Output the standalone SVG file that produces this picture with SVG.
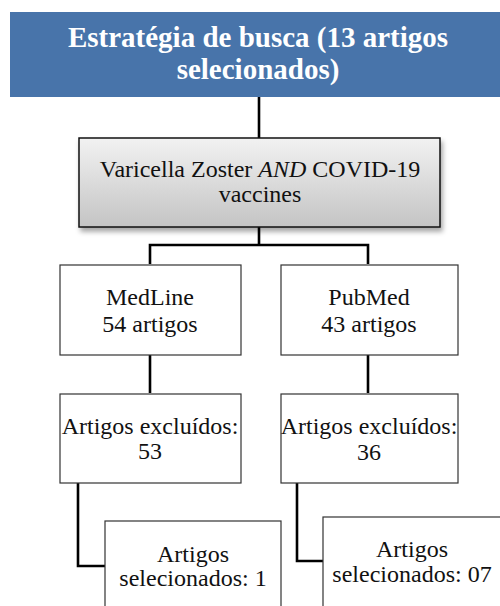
<svg xmlns="http://www.w3.org/2000/svg" width="500" height="606" viewBox="0 0 500 606">
  <defs>
    <linearGradient id="grayGrad" x1="0" y1="0" x2="0" y2="1">
      <stop offset="0" stop-color="#f2f2f2"/>
      <stop offset="1" stop-color="#c4c4c4"/>
    </linearGradient>
    <filter id="shadow" x="-10%" y="-10%" width="125%" height="140%">
      <feDropShadow dx="2" dy="4" stdDeviation="2.5" flood-color="#000" flood-opacity="0.35"/>
    </filter>
  </defs>
  <style>
    .box { fill: #ffffff; stroke: #333333; stroke-width: 1.2; }
    .t { font-family: 'Liberation Serif', serif; font-size: 24px; fill: #111111; text-anchor: middle; }
    .title { font-family: 'Liberation Serif', serif; font-size: 29px; font-weight: bold; fill: #ffffff; text-anchor: middle; }
    .conn { fill: none; stroke: #000000; stroke-width: 2.6; }
  </style>
  <rect width="500" height="606" fill="#ffffff"/>

  <g id="connectors">
    <line class="conn" x1="259" y1="97" x2="259" y2="138"/>
    <line class="conn" x1="259" y1="227" x2="259" y2="245"/>
    <polyline class="conn" points="150,264 150,245 368,245 368,264"/>
    <line class="conn" x1="150" y1="353" x2="150" y2="393"/>
    <line class="conn" x1="368" y1="353" x2="368" y2="393"/>
    <polyline class="conn" points="78,483 78,566 105,566"/>
    <polyline class="conn" points="297,482 297,561 323,561"/>
  </g>

  <g id="header">
    <rect x="10" y="12" width="495" height="85" fill="#4874aa"/>
    <text class="title" x="258" y="47">Estratégia de busca (13 artigos</text>
    <text class="title" x="258" y="79">selecionados)</text>
  </g>

  <g id="query">
    <rect x="79" y="138" width="361" height="89" fill="url(#grayGrad)" stroke="#111" stroke-width="1.5" filter="url(#shadow)"/>
    <text class="t" x="260" y="177">Varicella Zoster <tspan font-style="italic">AND</tspan> COVID-19</text>
    <text class="t" x="260" y="202">vaccines</text>
  </g>

  <g id="medline">
    <rect class="box" x="60" y="265" width="181" height="90"/>
    <text class="t" x="150" y="305">MedLine</text>
    <text class="t" x="150" y="332">54 artigos</text>
  </g>

  <g id="pubmed">
    <rect class="box" x="281" y="265" width="177" height="90"/>
    <text class="t" x="369" y="305">PubMed</text>
    <text class="t" x="369" y="332">43 artigos</text>
  </g>

  <g id="excl-medline">
    <rect class="box" x="60" y="394" width="181" height="89"/>
    <text class="t" x="150" y="434">Artigos excluídos:</text>
    <text class="t" x="150" y="459">53</text>
  </g>

  <g id="excl-pubmed">
    <rect class="box" x="281" y="394" width="177" height="89"/>
    <text class="t" x="369" y="434">Artigos excluídos:</text>
    <text class="t" x="369" y="460">36</text>
  </g>

  <g id="sel-medline">
    <rect class="box" x="105" y="521" width="176" height="100"/>
    <text class="t" x="193" y="562">Artigos</text>
    <text class="t" x="193" y="586">selecionados: 1</text>
  </g>

  <g id="sel-pubmed">
    <rect class="box" x="323" y="517" width="190" height="100"/>
    <text class="t" x="412" y="557">Artigos</text>
    <text class="t" x="412" y="582">selecionados: 07</text>
  </g>
</svg>
